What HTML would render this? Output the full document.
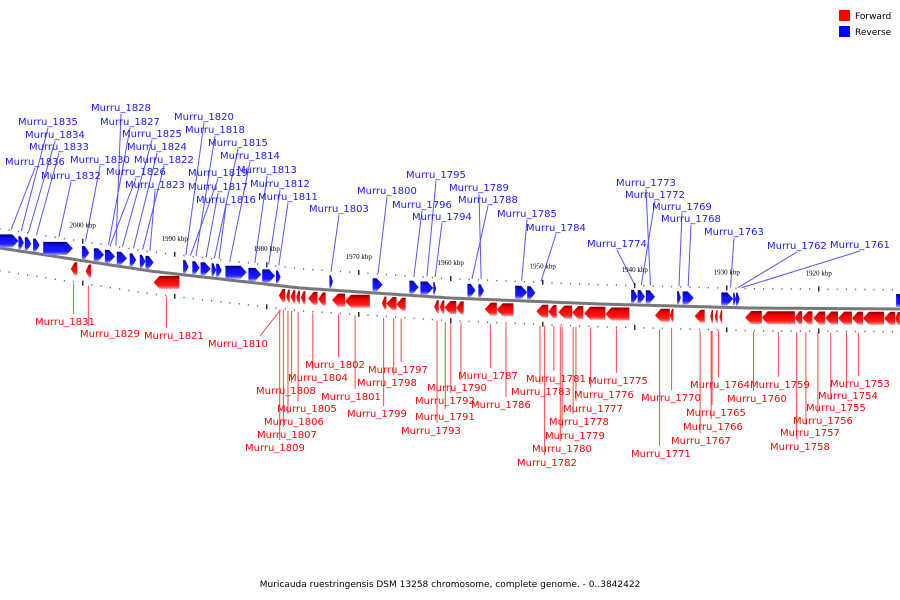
<!DOCTYPE html>
<html><head><meta charset="utf-8">
<style>
html,body{margin:0;padding:0;background:#fff;}
svg{display:block;font-family:"DejaVu Sans","Liberation Sans",sans-serif;}
.lb{font-size:10px;}
</style></head>
<body>
<svg id="chart" width="900" height="600" viewBox="0 0 900 600">
<defs>
<linearGradient id="gb" x1="0" y1="0" x2="0" y2="1">
<stop offset="0" stop-color="#000088"/><stop offset="0.3" stop-color="#1010ee"/><stop offset="0.75" stop-color="#1a1aff"/><stop offset="1" stop-color="#9999ff"/></linearGradient>
<linearGradient id="gr" x1="0" y1="0" x2="0" y2="1">
<stop offset="0" stop-color="#880000"/><stop offset="0.3" stop-color="#ee0000"/><stop offset="0.75" stop-color="#ff1a1a"/><stop offset="1" stop-color="#ff9999"/></linearGradient>
</defs>
<g id="leaders"></g>
<path id="axis" fill="none" stroke="#777" stroke-width="3"/>
<g id="ticks"></g>
<g id="genes"></g>
<g id="labels"></g>
<g>
<rect x="839" y="10" width="11" height="11" fill="#ff0000"/>
<text x="855" y="19" font-size="9">Forward</text>
<rect x="839" y="26" width="11" height="11" fill="#0000ff"/>
<text x="855" y="35" font-size="9">Reverse</text>
</g>
<text x="450" y="587" font-size="9" text-anchor="middle">Muricauda ruestringensis DSM 13258 chromosome, complete genome. - 0..3842422</text>
</svg>
<script>
// gene coordinates (kbp)
const reverseStarts=[2009.0,2007.0,2006.3,2005.4,2004.3,2000.1,1998.8,1997.6,1996.3,1994.9,1993.8,1993.2,1989.1,1988.1,1987.2,1986.0,1985.5,1984.5,1982.0,1980.5,1979.0,1973.2,1968.5,1964.5,1963.3,1961.9,1958.2,1957.0,1953.0,1951.7,1940.4,1939.7,1938.8,1935.4,1934.8,1930.6,1929.3,1929.0,1911.6];
const reverseEnds=[2007.0,2006.4,2005.6,2004.7,2001.1,1999.3,1997.7,1996.5,1995.2,1994.2,1993.2,1992.3,1988.5,1987.3,1986.1,1985.5,1984.9,1982.2,1980.6,1979.1,1978.5,1972.8,1967.4,1963.5,1961.9,1961.6,1957.3,1956.4,1951.7,1950.8,1939.7,1938.9,1937.8,1935.0,1933.6,1929.3,1929.0,1928.6,1910.6];
const forwardStarts=[2001.3,1999.7,1992.3,1978.7,1977.9,1977.4,1976.8,1976.3,1975.5,1974.4,1972.9,1971.5,1967.5,1967.0,1965.9,1961.8,1961.2,1960.7,1959.4,1956.3,1955.0,1950.7,1949.4,1948.3,1946.8,1945.5,1943.2,1937.8,1936.2,1933.5,1931.8,1931.3,1930.8,1928.0,1926.2,1922.6,1921.8,1920.6,1919.3,1917.9,1916.4,1915.2,1912.9,1911.7];
const forwardEnds=[2000.6,1999.1,1989.5,1978.0,1977.5,1976.9,1976.4,1975.8,1974.5,1973.6,1971.5,1968.8,1967.0,1965.9,1964.9,1961.3,1960.7,1959.4,1958.6,1955.0,1953.2,1949.4,1948.5,1946.8,1945.6,1943.2,1940.6,1936.2,1935.8,1932.4,1931.5,1931.0,1930.5,1926.2,1922.6,1921.8,1920.7,1919.3,1917.9,1916.4,1915.2,1912.9,1911.7,1911.2];
const tickValues=[2000,1990,1980,1970,1960,1950,1940,1930,1920];
const tickLabels=["2000 kbp","1990 kbp","1980 kbp","1970 kbp","1960 kbp","1950 kbp","1940 kbp","1930 kbp","1920 kbp"];
// labels: name, label x, label y, target kbp
const reverseLabels=[["Murru_1828",91,107,1996.4],["Murru_1835",18,121,2006.7],["Murru_1827",100,121,1997.2],["Murru_1834",25,134,2005.9],["Murru_1825",122,133,1995.7],["Murru_1833",29,146,2005.0],["Murru_1824",127,146,1994.5],["Murru_1830",70,159,1999.7],["Murru_1822",134,159,1993.5],["Murru_1836",5,161,2007.8],["Murru_1826",106,171,1997.0],["Murru_1832",41,175,2002.6],["Murru_1823",125,184,1992.7],["Murru_1820",174,116,1988.8],["Murru_1818",185,129,1987.7],["Murru_1815",208,142,1985.7],["Murru_1814",220,155,1984.0],["Murru_1813",237,169,1981.3],["Murru_1812",250,183,1979.8],["Murru_1819",188,172,1988.3],["Murru_1817",188,186,1986.6],["Murru_1816",196,199,1985.2],["Murru_1811",258,196,1978.7],["Murru_1803",309,208,1973.0],["Murru_1800",357,190,1967.9],["Murru_1795",406,174,1962.6],["Murru_1796",392,204,1964.0],["Murru_1794",412,216,1961.7],["Murru_1789",449,187,1956.7],["Murru_1788",458,199,1957.7],["Murru_1785",497,213,1952.3],["Murru_1784",526,227,1950.2],["Murru_1773",616,182,1938.3],["Murru_1772",625,194,1939.3],["Murru_1769",652,206,1935.2],["Murru_1768",661,218,1934.2],["Murru_1763",704,231,1929.6],["Murru_1774",587,243,1940.0],["Murru_1762",767,245,1928.8],["Murru_1761",830,244,1928.4]];
const forwardLabels=[["Murru_1831",35,321,2001.0],["Murru_1829",80,333,1999.4],["Murru_1821",144,335,1990.9],["Murru_1810",208,343,1978.5],["Murru_1802",305,364,1972.2],["Murru_1804",288,377,1975.0],["Murru_1808",256,390,1977.3],["Murru_1801",321,396,1970.4],["Murru_1805",277,408,1976.6],["Murru_1806",264,421,1977.7],["Murru_1807",257,434,1978.2],["Murru_1809",245,447,1978.6],["Murru_1797",368,369,1965.4],["Murru_1798",357,382,1966.2],["Murru_1799",347,413,1967.3],["Murru_1787",458,375,1955.7],["Murru_1790",427,387,1958.9],["Murru_1792",415,400,1960.0],["Murru_1786",471,404,1954.0],["Murru_1791",415,416,1960.6],["Murru_1793",401,430,1961.5],["Murru_1781",526,378,1948.8],["Murru_1775",588,380,1942.0],["Murru_1783",511,391,1950.3],["Murru_1776",574,394,1944.8],["Murru_1777",563,408,1946.4],["Murru_1778",549,421,1946.7],["Murru_1779",545,435,1947.9],["Murru_1780",532,448,1948.1],["Murru_1782",517,462,1949.8],["Murru_1770",641,397,1936.0],["Murru_1771",631,453,1937.3],["Murru_1764",690,384,1930.9],["Murru_1765",686,412,1931.6],["Murru_1766",683,426,1931.7],["Murru_1767",671,440,1932.9],["Murru_1759",750,384,1924.4],["Murru_1760",727,398,1927.1],["Murru_1753",830,383,1915.7],["Murru_1754",818,395,1917.0],["Murru_1755",806,407,1918.7],["Murru_1756",793,420,1920.1],["Murru_1757",780,432,1921.4],["Murru_1758",770,446,1922.4]];

const NS="http://www.w3.org/2000/svg";
const X=k=>(2009.0-k)*9.2;
const curve=[[0,248],[150,271],[300,288],[450,298],[600,304],[750,308],[900,309],[950,309]];
function Y(x){if(x<=0)return curve[0][1]+(curve[0][1]-curve[1][1])*(-x)/150;
for(let i=0;i<curve.length-1;i++){const a=curve[i],b=curve[i+1];if(x<=b[0])return a[1]+(b[1]-a[1])*(x-a[0])/(b[0]-a[0]);}return 309;}
function mk(tag,attrs,parent){const e=document.createElementNS(NS,tag);for(const k in attrs)e.setAttribute(k,attrs[k]);parent.appendChild(e);return e;}

let d="";for(let x=-5;x<=905;x+=5)d+=(x<0?"M":"L")+x+","+Y(x).toFixed(1);
document.getElementById('axis').setAttribute('d',d);

const tg=document.getElementById('ticks');
for(let k=2009;k>=1910;k--){const x=X(k);if(x<0||x>900)continue;const major=k%10===0;
 const t1=mk('rect',{x:x-0.6,y:Y(x)-(major?22:20),width:1.2,height:major?5:1.5,fill:major?'#000':'#666'},tg);
 
 
 const t2=mk('rect',{x:x-0.6,y:Y(x)+(major?20:22),width:1.2,height:major?5:1.5,fill:major?'#000':'#666'},tg);
 
 }
tickValues.forEach((v,i)=>{const x=X(v);
 const t=mk('text',{x:x,y:Y(x)-33,'font-size':7,'text-anchor':'middle',fill:'#000','font-family':'Liberation Serif, serif'},tg);
 t.textContent=tickLabels[i];
 
 });

const gg=document.getElementById('genes');
function gene(s,e,rev){const x1=X(s),x2=X(e),w=x2-x1,h=13,hd=Math.min(6,w*0.6);
 const base=Y((x1+x2)/2);const top=rev?base-h-2:base+3;
 let pts;
 if(rev)pts=[[x1,top],[x2-hd,top],[x2,top+h/2],[x2-hd,top+h],[x1,top+h]];
 else pts=[[x2,top],[x1+hd,top],[x1,top+h/2],[x1+hd,top+h],[x2,top+h]];
 const p=mk('polygon',{points:pts.map(q=>q.map(v=>v.toFixed(1)).join(',')).join(' '),fill:rev?'url(#gb)':'url(#gr)'},gg);
 
 }
reverseStarts.forEach((s,i)=>gene(s,reverseEnds[i],true));
forwardStarts.forEach((s,i)=>gene(s,forwardEnds[i],false));

const lg=document.getElementById('labels'),ld=document.getElementById('leaders');
function lab(a,rev){const [name,lx,ly,tk]=a;const tx=X(tk);const col=rev?'#1a1aff':'#ff0000';
 const t=mk('text',{x:lx,y:ly+4,class:'lb',fill:col},lg);t.textContent=name;
 
 
 let ex,y1,y2;
 if(rev){ex=lx+30;y1=ly+7;y2=Y(tx)-20;}
 else{ex=Math.max(lx+6,Math.min(lx+52,tx));y1=ly-7;y2=Y(tx)+24;}
 const l=mk('line',{x1:ex,y1:y1,x2:tx,y2:y2,stroke:rev?'#5555ff':'#ff4444','stroke-width':1},ld);
 
 }
reverseLabels.forEach(a=>lab(a,true));
forwardLabels.forEach(a=>lab(a,false));
</script>
</body></html>
